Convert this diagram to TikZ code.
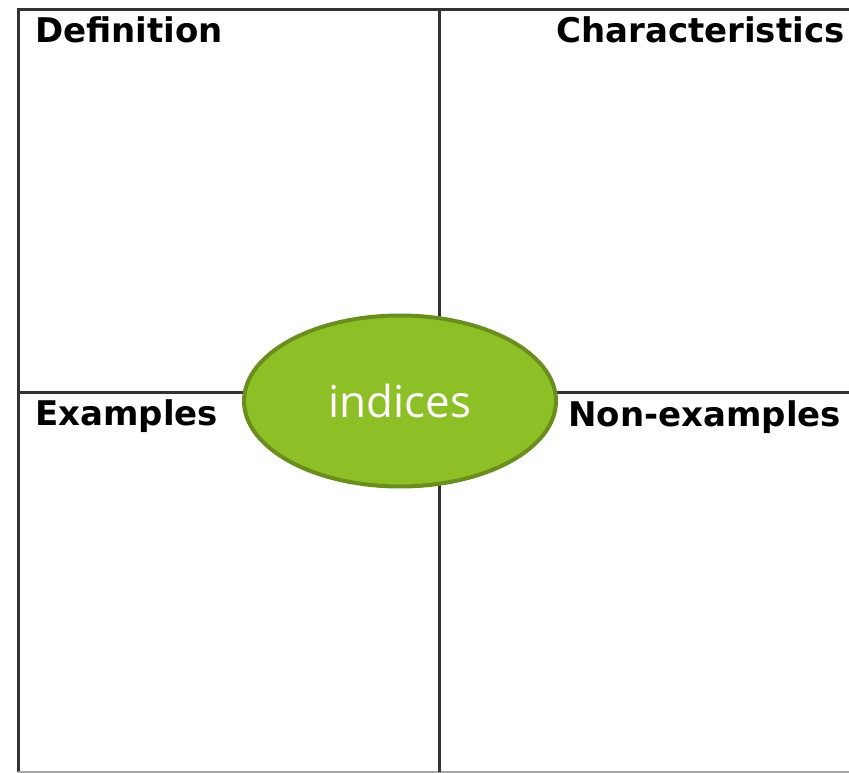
\documentclass[tikz,border=0pt]{standalone}
\usepackage{fontspec}
\setsansfont{DejaVu Sans}
\newfontfamily\ovalfont{Open Sans}
\usepackage{tikz}
\usetikzlibrary{shapes.geometric}

\definecolor{leafgreen}{HTML}{8DBF26}
\definecolor{leafedge}{HTML}{6A8E1E}
\definecolor{gridgray}{HTML}{333333}

\begin{document}
\begin{tikzpicture}[x=1pt, y=-1pt]
	\tikzstyle{heading}=[inner sep=0pt, anchor=base west, font=\sffamily\bfseries\fontsize{34}{40}\selectfont]
	\tikzstyle{frame}=[draw=gridgray, line width=3pt]
	\tikzstyle{concept}=[ellipse, draw=leafedge, line width=4pt, fill=leafgreen, text=white, inner sep=0pt, minimum width=312pt, minimum height=171pt, font=\ovalfont\fontsize{44}{50}\selectfont]
	\useasboundingbox (0,0) rectangle (849,773);

	\coordinate (tl) at (18,10);
	\coordinate (tr) at (849,10);
	\coordinate (bl) at (18,772);
	\coordinate (br) at (849,772);
	\coordinate (top) at (439,10);
	\coordinate (bot) at (439,772);
	\coordinate (left) at (18,392);
	\coordinate (right) at (849,392);

	\draw[frame] (tr) -- (tl) -- (bl);
	\draw[draw=gray!70, line width=2pt] (bl) -- (br);
	\draw[frame] (top) -- (bot);
	\draw[frame] (left) -- (right);

	\node[heading] (def) at (35,43) {Definition};
	\node[heading] (char) at (556,43) {Characteristics};
	\node[heading] (ex) at (35,425) {Examples};
	\node[heading] (nonex) at (568,426) {Non-examples};

	\node[concept] (word) at (400,401) {indices};
\end{tikzpicture}
\end{document}
